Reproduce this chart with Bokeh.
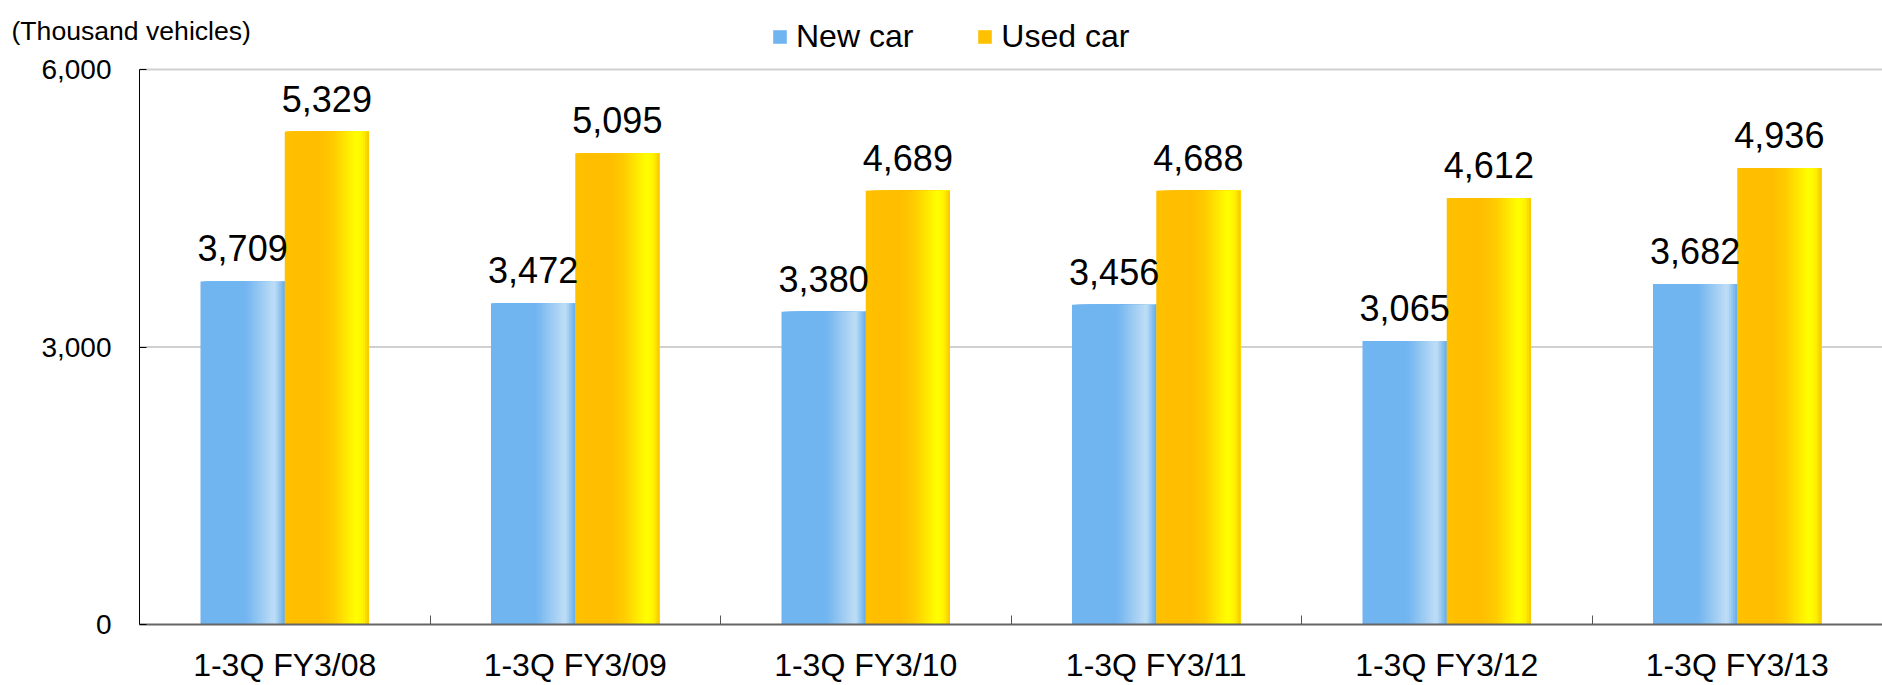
from bokeh.plotting import figure
from bokeh.models import (ColumnDataSource, FixedTicker, NumeralTickFormatter, Legend,
                          LegendItem, Label, Range1d)
from bokeh.core.properties import value
from bokeh.embed import file_html
from bokeh.resources import INLINE

# ---- data ----
categories = ["1-3Q FY3/08", "1-3Q FY3/09", "1-3Q FY3/10",
              "1-3Q FY3/11", "1-3Q FY3/12", "1-3Q FY3/13"]
new_car = [3709, 3472, 3380, 3456, 3065, 3682]
used_car = [5329, 5095, 4689, 4688, 4612, 4936]
series_names = ["New car", "Used car"]
y_ticks = [0, 3000, 6000]
y_unit = "(Thousand vehicles)"

# ---- layout / style ----
W, H = 1882, 685
AXIS_X_PX = 139        # pixel column of the value axis
AXIS_TOP_PX = 69       # pixel row of the top tick
AXIS_BOTTOM_PX = 624   # pixel row of the category axis
FONT = "Liberation Sans"
BAR_W = 0.29
N_STRIPS = 42
blue_stops = [(0.0, "#71B5F0"), (0.52, "#71B5F0"), (0.58, "#7BBAF0"),
              (0.88, "#C0DEF6"), (1.0, "#62ACEC")]
orange_stops = [(0.0, "#FFC000"), (0.42, "#FFBE00"), (0.58, "#FFCC00"),
                (0.85, "#FFFF00"), (0.93, "#FFF200"), (1.0, "#F5C600")]


def hex2rgb(h):
    h = h.lstrip("#")
    return tuple(int(h[i:i + 2], 16) for i in (0, 2, 4))


def grad_color(stops, t):
    for (t0, c0), (t1, c1) in zip(stops[:-1], stops[1:]):
        if t0 <= t <= t1:
            a = 0 if t1 == t0 else (t - t0) / (t1 - t0)
            r0, g0, b0 = hex2rgb(c0)
            r1, g1, b1 = hex2rgb(c1)
            return "#%02x%02x%02x" % (round(r0 + (r1 - r0) * a),
                                      round(g0 + (g1 - g0) * a),
                                      round(b0 + (b1 - b0) * a))
    return stops[-1][1]


def strip_source(values, side, stops):
    left, right, top, color = [], [], [], []
    for i, v in enumerate(values):
        center = i + 0.5
        x0 = center - BAR_W if side == 0 else center
        x1 = x0 + BAR_W
        for k in range(N_STRIPS):
            t = (k + 0.5) / N_STRIPS
            left.append(x0 + BAR_W * k / N_STRIPS)
            right.append(x1)
            top.append(v)
            color.append(grad_color(stops, t))
    return ColumnDataSource(dict(left=left, right=right, top=top,
                                 bottom=[0] * len(top), color=color))


n = len(categories)
x_start = -n * AXIS_X_PX / (W - AXIS_X_PX)
per_px = (y_ticks[-1] - y_ticks[0]) / (AXIS_BOTTOM_PX - AXIS_TOP_PX)
y_end = y_ticks[-1] + AXIS_TOP_PX * per_px
y_start = y_ticks[0] - (H - AXIS_BOTTOM_PX) * per_px

p = figure(width=W, height=H, x_range=Range1d(x_start, n),
           y_range=Range1d(y_start, y_end),
           output_backend="svg", toolbar_location=None,
           min_border_left=0, min_border_top=0, min_border_right=0,
           min_border_bottom=0)
p.outline_line_color = None
p.background_fill_color = "white"
p.border_fill_color = "white"
p.xgrid.visible = False
p.ygrid.visible = False

# grid lines (value axis ticks above zero)
grid_y = [t for t in y_ticks if t > 0]
p.segment(x0=[0] * len(grid_y), x1=[n] * len(grid_y), y0=grid_y, y1=grid_y,
          line_color="#D0D0D0", line_width=2)

src_new = strip_source(new_car, 0, blue_stops)
src_used = strip_source(used_car, 1, orange_stops)
r_new = p.quad(left="left", right="right", top="top", bottom="bottom",
               fill_color="color", line_color=None, source=src_new)
r_used = p.quad(left="left", right="right", top="top", bottom="bottom",
                fill_color="color", line_color=None, source=src_used)

# value labels
lab_x, lab_y, lab_t = [], [], []
for i, (a, b) in enumerate(zip(new_car, used_car)):
    lab_x += [i + 0.5 - BAR_W / 2, i + 0.5 + BAR_W / 2]
    lab_y += [a, b]
    lab_t += [f"{a:,}", f"{b:,}"]
p.text(x=lab_x, y=lab_y, text=lab_t, text_align="center",
       text_baseline="alphabetic", y_offset=-33, text_font=value(FONT),
       text_font_size="36px", text_color="black")

# category axis, fixed at value 0
xa = p.xaxis[0]
xa.fixed_location = y_ticks[0]
xa.bounds = (0, n)
xa.ticker = FixedTicker(ticks=[i + 0.5 for i in range(n)],
                        minor_ticks=list(range(1, n)))
xa.major_label_overrides = {i + 0.5: c for i, c in enumerate(categories)}
xa.major_tick_in = 0
xa.major_tick_out = 0
xa.minor_tick_in = 9
xa.minor_tick_out = 0
xa.minor_tick_line_color = "#555555"
xa.axis_line_color = "#666666"
xa.axis_line_width = 2
xa.major_label_text_font = FONT
xa.major_label_text_font_size = "32px"
xa.major_label_text_color = "black"
xa.major_label_standoff = 22

# value axis, fixed at the category axis origin
ya = p.yaxis[0]
ya.fixed_location = 0
ya.bounds = (y_ticks[0], y_ticks[-1])
ya.ticker = FixedTicker(ticks=y_ticks, minor_ticks=[])
ya.formatter = NumeralTickFormatter(format="0,0")
ya.major_tick_in = 7
ya.major_tick_out = 0
ya.major_tick_line_color = "black"
ya.axis_line_color = "black"
ya.major_label_text_font = FONT
ya.major_label_text_font_size = "28px"
ya.major_label_text_color = "black"
ya.major_label_standoff = 28

# unit label
p.add_layout(Label(x=11, y=H - 30, x_units="screen", y_units="screen",
                   text=y_unit, text_font=FONT, text_font_size="26.6px",
                   text_baseline="middle", text_color="black"))

legend = Legend(items=[LegendItem(label=series_names[0], renderers=[r_new], index=0),
                       LegendItem(label=series_names[1], renderers=[r_used], index=0)],
                location=(771, H - 55), orientation="horizontal",
                border_line_color=None, background_fill_alpha=0,
                padding=0, margin=0, glyph_width=17, glyph_height=17,
                label_standoff=8, spacing=63,
                label_text_font=FONT, label_text_font_size="32px",
                label_text_color="black")
p.add_layout(legend)

open("out.html", "w").write(file_html(p, INLINE))
